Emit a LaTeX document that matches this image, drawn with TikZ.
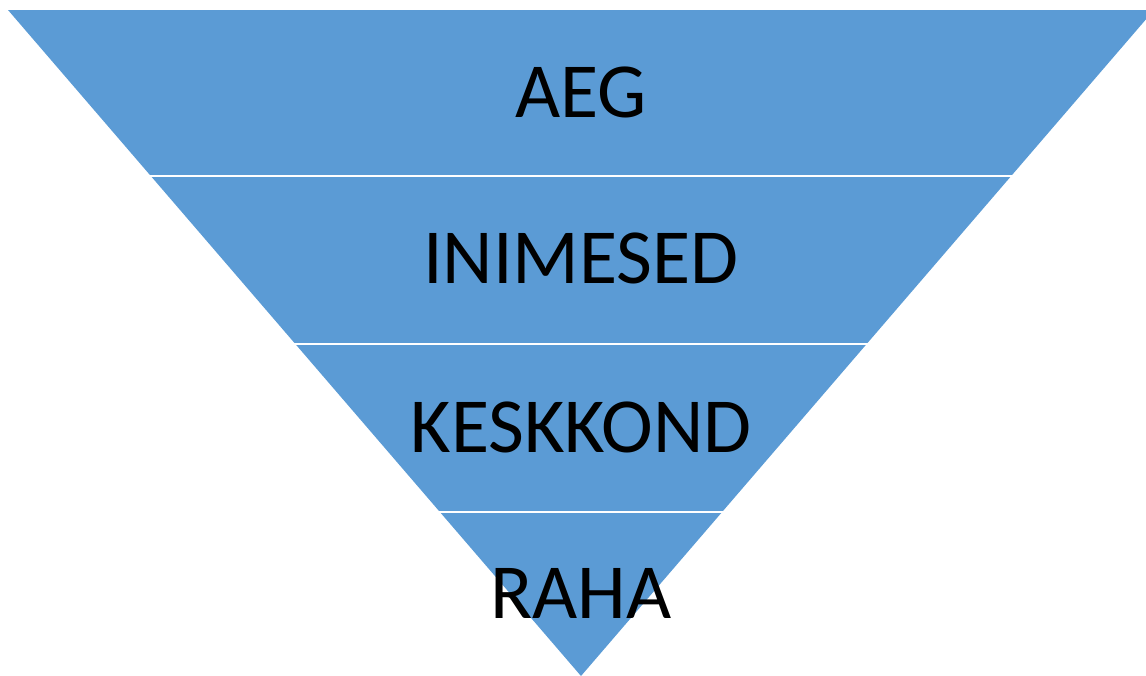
\documentclass[tikz,border=0pt]{standalone}
\usepackage{fontspec}
\setmainfont{Carlito}
\tikzset{
every picture/.style={
line width=1pt
}}
\definecolor{bandblue}{HTML}{5B9BD5}

\begin{document}
\begin{tikzpicture}[x=1pt,y=-1pt]
\useasboundingbox (0,0) rectangle (1146,675);
\fill[bandblue] (8,10) -- (1154,10) -- (581,676) -- cycle;

\foreach \y in {176, 344, 512}{
  \draw[white, line width=2pt] (0,\y) -- (1146,\y);
}

\foreach \t/\y [count=\ti] in {AEG/92, INIMESED/258, KESKKOND/427, RAHA/593}{
  \node[font=\fontsize{78}{90}\selectfont, inner sep=0pt] (level\ti) at (581,\y) {\t};
}
\end{tikzpicture}
\end{document}
